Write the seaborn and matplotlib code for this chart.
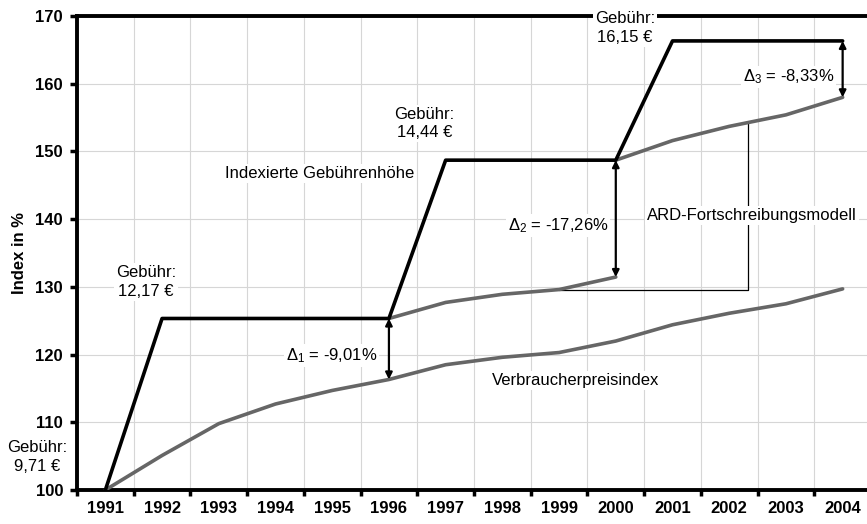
import numpy as np
import seaborn as sns
import matplotlib.pyplot as plt

# Data (index, 1991 = 100)
years = [1991, 1992, 1993, 1994, 1995, 1996, 1997, 1998, 1999, 2000, 2001, 2002, 2003, 2004]
gebuehr_index = [100.0, 125.33, 125.33, 125.33, 125.33, 125.33, 148.71, 148.71, 148.71, 148.71,
                 166.32, 166.32, 166.32, 166.32]
vpi = [100.0, 105.1, 109.8, 112.7, 114.7, 116.32, 118.5, 119.6, 120.3, 122.0, 124.4, 126.1, 127.5, 129.7]
ard_years_1 = [1996, 1997, 1998, 1999, 2000]
ard_values_1 = [125.33, 127.7, 128.9, 129.6, 131.45]
ard_years_2 = [2000, 2001, 2002, 2003, 2004]
ard_values_2 = [148.71, 151.6, 153.7, 155.4, 157.99]
fee_labels = ["Gebühr:\n9,71 €", "Gebühr:\n12,17 €", "Gebühr:\n14,44 €", "Gebühr:\n16,15 €"]
delta_labels = ["-9,01%", "-17,26%", "-8,33%"]

sns.set_theme(style="white")
plt.rcParams["font.family"] = ["Liberation Sans", "DejaVu Sans"]
plt.rcParams["mathtext.fontset"] = "custom"
plt.rcParams["mathtext.rm"] = "Liberation Sans"
plt.rcParams["mathtext.it"] = "Liberation Sans"
for key in ["text.color", "axes.labelcolor", "xtick.color", "ytick.color"]:
    plt.rcParams[key] = "black"

pos = {y: i for i, y in enumerate(years)}
x_all = np.arange(len(years))

fig = plt.figure(figsize=(8.67, 5.24), dpi=100)
ax = fig.add_axes([77 / 867, 34 / 524, (871 - 77) / 867, 474 / 524])

gray = "#666666"
sns.lineplot(x=x_all, y=vpi, ax=ax, color=gray, lw=2.6, zorder=3)
sns.lineplot(x=[pos[y] for y in ard_years_1], y=ard_values_1, ax=ax, color=gray, lw=2.6, zorder=3)
sns.lineplot(x=[pos[y] for y in ard_years_2], y=ard_values_2, ax=ax, color=gray, lw=2.6, zorder=3)
sns.lineplot(x=x_all, y=gebuehr_index, ax=ax, color="black", lw=2.6, zorder=4)

ax.set_xlim(-0.5, 13.5)
ax.set_ylim(100, 170)

# category axis: labels at centres, ticks at the boundaries
ax.set_xticks(x_all)
ax.set_xticklabels([str(y) for y in years], fontweight="bold", fontsize=12)
ax.set_xticks(np.arange(-0.5, 14, 1), minor=True)
ax.tick_params(axis="x", which="major", length=0, pad=8)
ax.tick_params(axis="x", which="minor", length=4, width=2.5, color="black", direction="out", bottom=True)
ax.set_yticks(range(100, 171, 10))
ax.set_yticklabels([str(v) for v in range(100, 171, 10)], fontweight="bold", fontsize=12)
ax.tick_params(axis="y", length=5, width=2.5, color="black", direction="out", left=True, pad=5)
ax.set_ylabel("Index in %", fontweight="bold", fontsize=12, labelpad=6)
ax.set_xlabel("")

ax.grid(False)
ax.vlines(np.arange(0.5, 13.5, 1), 100, 170, color="#d6d6d6", lw=0.8, zorder=1)
ax.hlines(range(110, 170, 10), -0.5, 13.5, color="#d6d6d6", lw=0.8, zorder=1)

for side in ["left", "bottom", "top"]:
    ax.spines[side].set_color("black")
    ax.spines[side].set_linewidth(2.8)
ax.spines["right"].set_visible(False)

# difference arrows
arrow = dict(arrowstyle="<|-|>", color="black", lw=1.6, mutation_scale=10, shrinkA=0, shrinkB=0)
ax.annotate("", xy=(pos[1996], 116.32), xytext=(pos[1996], 125.33), arrowprops=arrow, zorder=5)
ax.annotate("", xy=(pos[2000], 131.45), xytext=(pos[2000], 148.71), arrowprops=arrow, zorder=5)
ax.annotate("", xy=(pos[2004], 157.99), xytext=(pos[2004], 166.32), arrowprops=arrow, zorder=5)

# connector for the ARD label
ax.plot([pos[1999], 11.33, 11.33], [129.6, 129.6, 154.3], color="black", lw=0.9, zorder=2)

box = dict(facecolor="white", edgecolor="none", pad=1.5)
fs = 12
ax.text(-1.2, 104.9, fee_labels[0], ha="center", va="center", fontsize=fs, clip_on=False,
        linespacing=1.3)
ax.text(0.72, 130.7, fee_labels[1], ha="center", va="center", fontsize=fs, linespacing=1.3, bbox=box)
ax.text(5.63, 154.1, fee_labels[2], ha="center", va="center", fontsize=fs, linespacing=1.3, bbox=box)
ax.text(9.16, 168.2, fee_labels[3], ha="center", va="center", fontsize=fs, linespacing=1.3,
        bbox=box, zorder=6, clip_on=False)
ax.text(3.78, 146.7, "Indexierte Gebührenhöhe", ha="center", va="center", fontsize=fs, bbox=box)
ax.text(8.3, 116.1, "Verbraucherpreisindex", ha="center", va="center", fontsize=fs, bbox=box)
ax.text(11.4, 140.6, "ARD-Fortschreibungsmodell", ha="center", va="center", fontsize=fs, bbox=box, zorder=6)
for i, (xc, yc) in enumerate([(3.99, 119.9), (7.98, 139.1), (12.05, 161.0)]):
    ax.text(xc, yc, r"$\Delta_{%d}$ = %s" % (i + 1, delta_labels[i]), ha="center", va="center",
            fontsize=fs, bbox=box, zorder=6)

fig.savefig("out.png", dpi=100)
